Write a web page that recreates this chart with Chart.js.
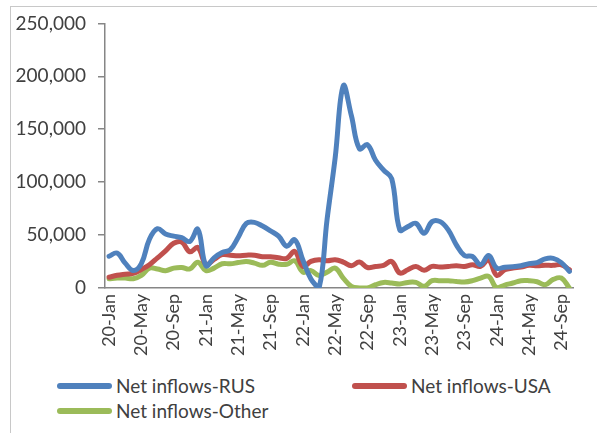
<!DOCTYPE html>
<html>
<head>
<meta charset="utf-8">
<script src="https://cdn.jsdelivr.net/npm/chart.js@4.4.1/dist/chart.umd.min.js"></script>
<style>
  body { margin: 0; background: #fff; }
  #wrap { position: relative; width: 597px; height: 433px; overflow: hidden; font-family: Lato, sans-serif; }
  #frame { position: absolute; left: 10px; top: 6px; width: 640px; height: 480px; border: 1px solid #c8c8c8; }
  #box { position: absolute; left: 0; top: 0; width: 597px; height: 370px; }
  #legend { position: absolute; left: 57px; top: 373px; display: grid; grid-template-columns: 295px 240px; grid-auto-rows: 25px; }
  .item { display: flex; align-items: center; font-size: 19px; color: #404040; white-space: nowrap; }
  .swatch { width: 55px; height: 6px; border-radius: 3px; margin-right: 4px; }
</style>
</head>
<body>
<div id="wrap">
  <div id="frame"></div>
  <div id="box"><canvas id="flowChart"></canvas></div>
  <div id="legend"></div>
</div>
<script>
// months 20-Jan .. 24-Oct
const years = ["20", "21", "22", "23", "24"];
const months = ["Jan", "Feb", "Mar", "Apr", "May", "Jun", "Jul", "Aug", "Sep", "Oct", "Nov", "Dec"];
const lastMonthIdx = 9; // data ends at 24-Oct

const rusValues = [
  30000, 33000, 23500, 16500, 23000, 46000, 56000, 51000, 49000, 47500, 44000, 55500,
  21000, 28500, 33500, 36000, 48000, 61000, 62000, 58500, 54000, 49000, 39500, 45500,
  26500, 8500, 0, 65000, 123000, 191000, 163000, 131600, 135400, 120700, 111300, 103400,
  54900, 58000, 61100, 51700, 62700, 62700, 54900, 40800, 30700, 29800, 22000, 30700,
  18800, 19700, 20000, 21000, 23000, 24000, 27500, 28000, 24000, 15700
];
const usaValues = [
  10200, 12000, 13000, 13800, 17500, 22000, 28500, 35000, 42300, 43500, 34200, 38200,
  22300, 27000, 31500, 31000, 30500, 31000, 31000, 29500, 29500, 28500, 28000, 34500,
  20400, 25100, 26700, 25700, 26700, 24500, 21000, 24500, 19400, 20400, 21400, 25100,
  14100, 17300, 20400, 16700, 20400, 19800, 20400, 21000, 20400, 22000, 20400, 26700,
  11900, 17300, 18800, 19800, 21400, 21000, 21400, 21400, 22000, 17300
];
const otherValues = [
  8800, 9400, 9400, 8800, 11900, 18800, 18000, 16400, 18800, 19400, 18000, 24400,
  16400, 18800, 22900, 22900, 24000, 25000, 23500, 21400, 24400, 22500, 22400, 25700,
  15000, 16400, 11900, 15000, 18800, 9400, 1600, 0, 0, 3100, 5300, 4700,
  3800, 5300, 5300, 1600, 6900, 6900, 6900, 6200, 5600, 6900, 9400, 11000,
  0, 2800, 4700, 6900, 6900, 5900, 3100, 8100, 9400, 0
];
const seriesNames = ["Net inflows-RUS", "Net inflows-USA", "Net inflows-Other"];
const seriesColors = ["#4F81BD", "#C0504D", "#9BBB59"];
const yTicks = [0, 50000, 100000, 150000, 200000, 250000];

const categories = [];
years.forEach(function (yy, yi) {
  months.forEach(function (mm, mi) {
    if (yi === years.length - 1 && mi > lastMonthIdx) return;
    categories.push(yy + "-" + mm);
  });
});

const textColor = "#404040";
const axisColor = "#868686";
const allValues = [rusValues, usaValues, otherValues];

const datasets = allValues.map(function (vals, k) {
  return {
    label: seriesNames[k],
    data: vals,
    borderColor: seriesColors[k],
    backgroundColor: seriesColors[k],
    borderWidth: 5,
    pointRadius: 0,
    tension: 0.4,
    borderCapStyle: "round",
    borderJoinStyle: "round",
    fill: false
  };
});

const ctx = document.getElementById("flowChart");
const chart = new Chart(ctx, {
  type: "line",
  data: { labels: categories, datasets: datasets },
  options: {
    responsive: true,
    maintainAspectRatio: false,
    animation: false,
    layout: { padding: { left: 10, top: 18, right: 1, bottom: 0 } },
    plugins: { legend: { display: false }, tooltip: { enabled: false } },
    scales: {
      x: {
        offset: true,
        grid: { display: true, drawOnChartArea: false, drawTicks: false },
        border: { display: true, color: axisColor, width: 1.5 },
        ticks: {
          autoSkip: false,
          maxRotation: 90,
          minRotation: 90,
          padding: 6,
          color: textColor,
          font: { family: "Lato", size: 18 },
          callback: function (v, i) { return i % 4 === 0 ? this.getLabelForValue(v) : ""; }
        },
        afterFit: function (s) { s.height = 82; }
      },
      y: {
        min: yTicks[0],
        max: yTicks[yTicks.length - 1],
        afterBuildTicks: function (s) { s.ticks = yTicks.map(function (v) { return { value: v }; }); },
        grid: { display: true, drawOnChartArea: false, drawTicks: true, tickLength: 7, color: axisColor, lineWidth: 1.5 },
        border: { display: true, color: axisColor, width: 1.5 },
        ticks: {
          padding: 12,
          color: textColor,
          font: { family: "Lato", size: 19 },
          callback: function (v) { return v.toLocaleString("en-US"); }
        },
        afterFit: function (s) { s.width = 95; }
      }
    }
  }
});

// legend in two columns, like the original
const legendBox = document.getElementById("legend");
chart.data.datasets.forEach(function (ds) {
  const item = document.createElement("div");
  item.className = "item";
  const sw = document.createElement("span");
  sw.className = "swatch";
  sw.style.backgroundColor = ds.borderColor;
  const txt = document.createElement("span");
  txt.textContent = ds.label;
  item.appendChild(sw);
  item.appendChild(txt);
  legendBox.appendChild(item);
});
</script>
</body>
</html>
